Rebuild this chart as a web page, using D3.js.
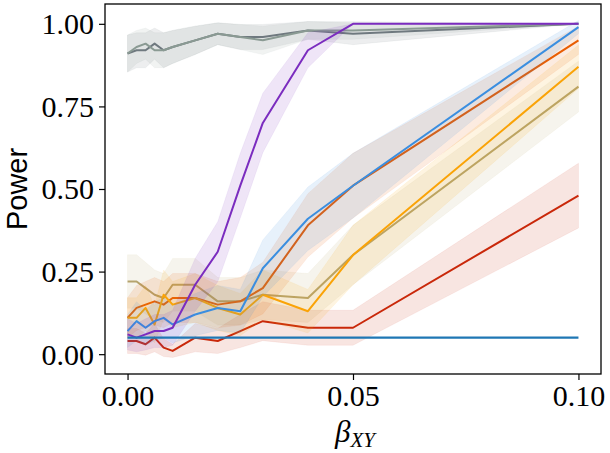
<!DOCTYPE html>
<html>
<head>
<meta charset="utf-8">
<script src="https://cdn.jsdelivr.net/npm/d3@7"></script>
<style>
    body { margin: 0; background: #fff; }
    svg { display: block; }
</style>
</head>
<body>
<div class="power-chart"></div>
<script>
// beta_XY values on the x axis
const betaValues = [0, 0.002, 0.004, 0.006, 0.008, 0.01, 0.015, 0.02, 0.025, 0.03, 0.04, 0.05, 0.1];
const xTickValues = [0, 0.05, 0.1];
const yTickValues = [0, 0.25, 0.5, 0.75, 1];
const alphaLevel = 0.05;

// power per method (mean, lower, upper)
const greyDark = [0.91, 0.92, 0.92, 0.94, 0.92, 0.93, 0.95, 0.97, 0.96, 0.96, 0.98, 0.97, 1.00];
const greyDarkLow = [0.854, 0.867, 0.867, 0.893, 0.867, 0.88, 0.907, 0.937, 0.922, 0.922, 0.953, 0.937, 1.0];
const greyDarkHigh = [0.966, 0.973, 0.973, 0.987, 0.973, 0.98, 0.993, 1.003, 0.998, 0.998, 1.007, 1.003, 1.0];

const greyLight = [0.91, 0.93, 0.94, 0.92, 0.92, 0.93, 0.95, 0.97, 0.96, 0.95, 0.98, 0.98, 1.00];
const greyLightLow = [0.854, 0.88, 0.893, 0.867, 0.867, 0.88, 0.907, 0.937, 0.922, 0.907, 0.953, 0.953, 1.0];
const greyLightHigh = [0.966, 0.98, 0.987, 0.973, 0.973, 0.98, 0.993, 1.003, 0.998, 0.993, 1.007, 1.007, 1.0];

const khaki = [0.22, 0.22, 0.20, 0.18, 0.17, 0.21, 0.21, 0.16, 0.16, 0.18, 0.17, 0.30, 0.81];
const khakiLow = [0.139, 0.139, 0.122, 0.105, 0.096, 0.13, 0.13, 0.088, 0.088, 0.105, 0.096, 0.21, 0.733];
const khakiHigh = [0.301, 0.301, 0.278, 0.255, 0.244, 0.29, 0.29, 0.232, 0.232, 0.255, 0.244, 0.39, 0.887];

const red = [0.04, 0.04, 0.03, 0.05, 0.02, 0.01, 0.05, 0.04, 0.07, 0.10, 0.08, 0.08, 0.48];
const redLow = [0.002, 0.002, -0.003, 0.007, -0.007, -0.01, 0.007, 0.002, 0.02, 0.041, 0.027, 0.027, 0.382];
const redHigh = [0.078, 0.078, 0.063, 0.093, 0.047, 0.03, 0.093, 0.078, 0.12, 0.159, 0.133, 0.133, 0.578];

const orange = [0.11, 0.14, 0.15, 0.16, 0.15, 0.17, 0.17, 0.15, 0.16, 0.20, 0.39, 0.51, 0.95];
const orangeLow = [0.049, 0.072, 0.08, 0.088, 0.08, 0.096, 0.096, 0.08, 0.088, 0.122, 0.294, 0.412, 0.907];
const orangeHigh = [0.171, 0.208, 0.22, 0.232, 0.22, 0.244, 0.244, 0.22, 0.232, 0.278, 0.486, 0.608, 0.993];

const yellow = [0.11, 0.11, 0.14, 0.09, 0.18, 0.15, 0.17, 0.14, 0.12, 0.18, 0.13, 0.30, 0.87];
const yellowLow = [0.049, 0.049, 0.072, 0.034, 0.105, 0.08, 0.096, 0.072, 0.056, 0.105, 0.064, 0.21, 0.804];
const yellowHigh = [0.171, 0.171, 0.208, 0.146, 0.255, 0.22, 0.244, 0.208, 0.184, 0.255, 0.196, 0.39, 0.936];

const blue = [0.07, 0.10, 0.08, 0.10, 0.11, 0.09, 0.12, 0.14, 0.13, 0.26, 0.41, 0.51, 0.99];
const blueLow = [0.02, 0.041, 0.027, 0.041, 0.049, 0.034, 0.056, 0.072, 0.064, 0.174, 0.314, 0.412, 0.97];
const blueHigh = [0.12, 0.159, 0.133, 0.159, 0.171, 0.146, 0.184, 0.208, 0.196, 0.346, 0.506, 0.608, 1.01];

const purple = [0.06, 0.05, 0.06, 0.07, 0.07, 0.08, 0.21, 0.31, 0.51, 0.70, 0.92, 1.00, 1.00];
const purpleLow = [0.013, 0.007, 0.013, 0.02, 0.02, 0.027, 0.13, 0.219, 0.412, 0.61, 0.867, 1.0, 1.0];
const purpleHigh = [0.107, 0.093, 0.107, 0.12, 0.12, 0.133, 0.29, 0.401, 0.608, 0.79, 0.973, 1.0, 1.0];

const seriesList = [
    {mean: greyDark, low: greyDarkLow, high: greyDarkHigh, color: "#6c757d"},
    {mean: greyLight, low: greyLightLow, high: greyLightHigh, color: "#8a9a93"},
    {mean: khaki, low: khakiLow, high: khakiHigh, color: "#b5a46e"},
    {mean: red, low: redLow, high: redHigh, color: "#c9280a"},
    {mean: orange, low: orangeLow, high: orangeHigh, color: "#e85d04"},
    {mean: yellow, low: yellowLow, high: yellowHigh, color: "#faa307"},
    {mean: blue, low: blueLow, high: blueHigh, color: "#3a8ee0"},
    {mean: purple, low: purpleLow, high: purpleHigh, color: "#7b2cbf"}
];

const width = 610, height = 453;
const margin = {top: 4, right: 9, bottom: 79, left: 105};

var svg = d3.select(".power-chart")
    .append("svg")
    .attr("width", width)
    .attr("height", height);

var x = d3.scaleLinear()
    .domain([-0.005, 0.105])
    .range([margin.left, width - margin.right]);

var y = d3.scaleLinear()
    .domain([-0.06, 1.06])
    .range([height - margin.bottom, margin.top]);

var plot = svg.append("g");

seriesList.forEach(function (s) {
    var rows = betaValues.map(function (b, i) {
        return {b: b, m: s.mean[i], lo: s.low[i], hi: s.high[i]};
    });

    var band = d3.area()
        .x(function (d) { return x(d.b); })
        .y0(function (d) { return y(d.lo); })
        .y1(function (d) { return y(d.hi); });

    var line = d3.line()
        .x(function (d) { return x(d.b); })
        .y(function (d) { return y(d.m); });

    plot.append("path")
        .datum(rows)
        .attr("d", band)
        .attr("fill", s.color)
        .attr("fill-opacity", 0.12)
        .attr("stroke", s.color)
        .attr("stroke-opacity", 0.06);

    plot.append("path")
        .datum(rows)
        .attr("d", line)
        .attr("fill", "none")
        .attr("stroke", s.color)
        .attr("stroke-width", 2)
        .attr("stroke-linejoin", "round");
});

// significance level reference
plot.append("line")
    .attr("x1", x(betaValues[0]))
    .attr("x2", x(betaValues[betaValues.length - 1]))
    .attr("y1", y(alphaLevel))
    .attr("y2", y(alphaLevel))
    .attr("stroke", "#1f77b4")
    .attr("stroke-width", 2.2);

var xAxis = svg.append("g")
    .attr("transform", "translate(0," + (height - margin.bottom) + ")")
    .call(d3.axisBottom(x).tickValues(xTickValues).tickFormat(d3.format(".2f")).tickSize(6).tickSizeOuter(0));

var yAxis = svg.append("g")
    .attr("transform", "translate(" + margin.left + ",0)")
    .call(d3.axisLeft(y).tickValues(yTickValues).tickFormat(d3.format(".2f")).tickSize(6).tickSizeOuter(0));

[xAxis, yAxis].forEach(function (a) {
    a.select(".domain").remove();
    a.selectAll(".tick line").attr("stroke", "#000").attr("stroke-width", 1.2);
    a.selectAll(".tick text")
        .attr("fill", "#000")
        .style("font-family", "'Liberation Serif', 'DejaVu Serif', serif")
        .style("font-size", "30px");
});
xAxis.selectAll(".tick text").attr("y", 11).attr("dy", "0.71em");
yAxis.selectAll(".tick text").attr("x", -11).attr("dy", "0.33em");

// frame
svg.append("rect")
    .attr("x", margin.left)
    .attr("y", margin.top)
    .attr("width", width - margin.left - margin.right)
    .attr("height", height - margin.top - margin.bottom)
    .attr("fill", "none")
    .attr("stroke", "#000")
    .attr("stroke-width", 1.3);

svg.append("text")
    .attr("transform", "translate(27," + y(0.5) + ") rotate(-90)")
    .attr("text-anchor", "middle")
    .style("font-family", "'Liberation Sans', Arial, sans-serif")
    .style("font-size", "29px")
    .text("Power");

var xLabel = svg.append("text")
    .attr("x", x(0.05) + 2)
    .attr("y", 442)
    .attr("text-anchor", "middle")
    .style("font-family", "'Liberation Serif', 'DejaVu Serif', serif")
    .style("font-style", "italic");
xLabel.append("tspan").style("font-size", "31px").text("β");
xLabel.append("tspan").style("font-size", "21px").attr("dy", 5).text("XY");
</script>
</body>
</html>
